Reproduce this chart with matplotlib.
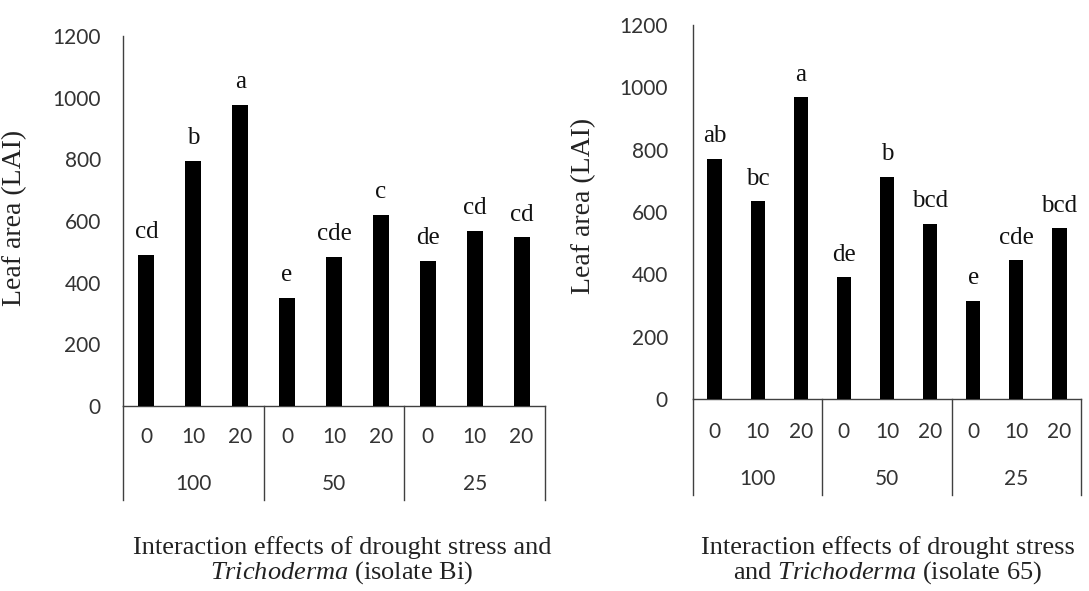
import matplotlib
matplotlib.use("Agg")
import matplotlib.pyplot as plt
import matplotlib.transforms as mtransforms

trichoderma = ["0", "10", "20"] * 3
drought = ["100", "50", "25"]
yticks = [0, 200, 400, 600, 800, 1000, 1200]

values_bi = [490, 795, 977, 350, 483, 619, 471, 568, 547]
letters_bi = ["cd", "b", "a", "e", "cde", "c", "de", "cd", "cd"]

values_65 = [770, 634, 968, 390, 713, 562, 315, 445, 548]
letters_65 = ["ab", "bc", "a", "de", "b", "bcd", "e", "cde", "bcd"]

titles = ["Interaction effects of drought stress and\n$\\it{Trichoderma}$ (isolate Bi)",
          "Interaction effects of drought stress\nand $\\it{Trichoderma}$ (isolate 65)"]
ylabel = "Leaf area (LAI)"

SERIF = ["Liberation Serif", "DejaVu Serif"]
SANS = ["Lato", "DejaVu Sans"]
plt.rcParams["mathtext.fontset"] = "custom"
plt.rcParams["mathtext.it"] = "Liberation Serif:italic"
plt.rcParams["mathtext.rm"] = "Liberation Serif"

fig = plt.figure(figsize=(10.89, 5.91), dpi=100)
W, H = 1089, 591

panels = [
    dict(l=123, r=545, t=36, b=406, tb=500, pad=16, ylx=27, yly=218, tick_y=437, grp_y=484,
         vals=values_bi, lets=letters_bi, bw=0.34, title=titles[0], tx=342),
    dict(l=693, r=1081, t=25, b=399, tb=495, pad=18, ylx=596, yly=206, tick_y=432, grp_y=479,
         vals=values_65, lets=letters_65, bw=0.33, title=titles[1], tx=888),
]

line_col = "#404040"
for p in panels:
    ax = fig.add_axes([p["l"] / W, 1 - p["b"] / H, (p["r"] - p["l"]) / W, (p["b"] - p["t"]) / H])
    x = list(range(len(p["vals"])))
    ax.bar(x, p["vals"], width=p["bw"], color="black", zorder=3)
    for xi, v, lt in zip(x, p["vals"], p["lets"]):
        ax.annotate(lt, (xi, v), xytext=(0, 12), textcoords="offset points",
                    ha="center", va="baseline", fontsize=18, family=SERIF, color="#111111")
    ax.set_xlim(-0.5, 8.5)
    ax.set_ylim(0, 1200)
    ax.set_yticks(yticks)
    ax.set_yticklabels([str(t) for t in yticks], family=SANS, fontsize=15, color="#333333")
    ax.tick_params(axis="y", length=0, pad=p["pad"])
    ax.set_xticks([])
    for s in ["top", "right"]:
        ax.spines[s].set_visible(False)
    ax.spines["left"].set_color(line_col)
    ax.spines["bottom"].set_color(line_col)
    ax.spines["left"].set_linewidth(1.0)
    ax.spines["bottom"].set_linewidth(1.0)

    ah = p["b"] - p["t"]
    trans = mtransforms.blended_transform_factory(ax.transData, ax.transAxes)
    tb = -(p["tb"] - p["b"]) / ah
    for sx in [-0.5, 2.5, 5.5, 8.5]:
        ax.plot([sx, sx], [0, tb], transform=trans, color=line_col, lw=1.0, clip_on=False)
    ty = -(p["tick_y"] - p["b"]) / ah
    for xi, lab in zip(x, trichoderma):
        ax.text(xi, ty, lab, transform=trans, ha="center", va="center",
                family=SANS, fontsize=15, color="#333333")
    gy = -(p["grp_y"] - p["b"]) / ah
    for gi, lab in enumerate(drought):
        ax.text(gi * 3 + 1, gy, lab, transform=trans, ha="center", va="center",
                family=SANS, fontsize=15, color="#333333")

    aw = p["r"] - p["l"]
    ax.set_ylabel(ylabel, family=SERIF, fontsize=20, color="#222222")
    ax.yaxis.set_label_coords((p["ylx"] - p["l"]) / aw, (p["b"] - p["yly"]) / ah)

    fig.text(p["tx"] / W, 1 - 561 / H, p["title"], ha="center", va="center",
             family=SERIF, fontsize=19, color="#222222", linespacing=1.05)

fig.savefig("out.png", dpi=100)
